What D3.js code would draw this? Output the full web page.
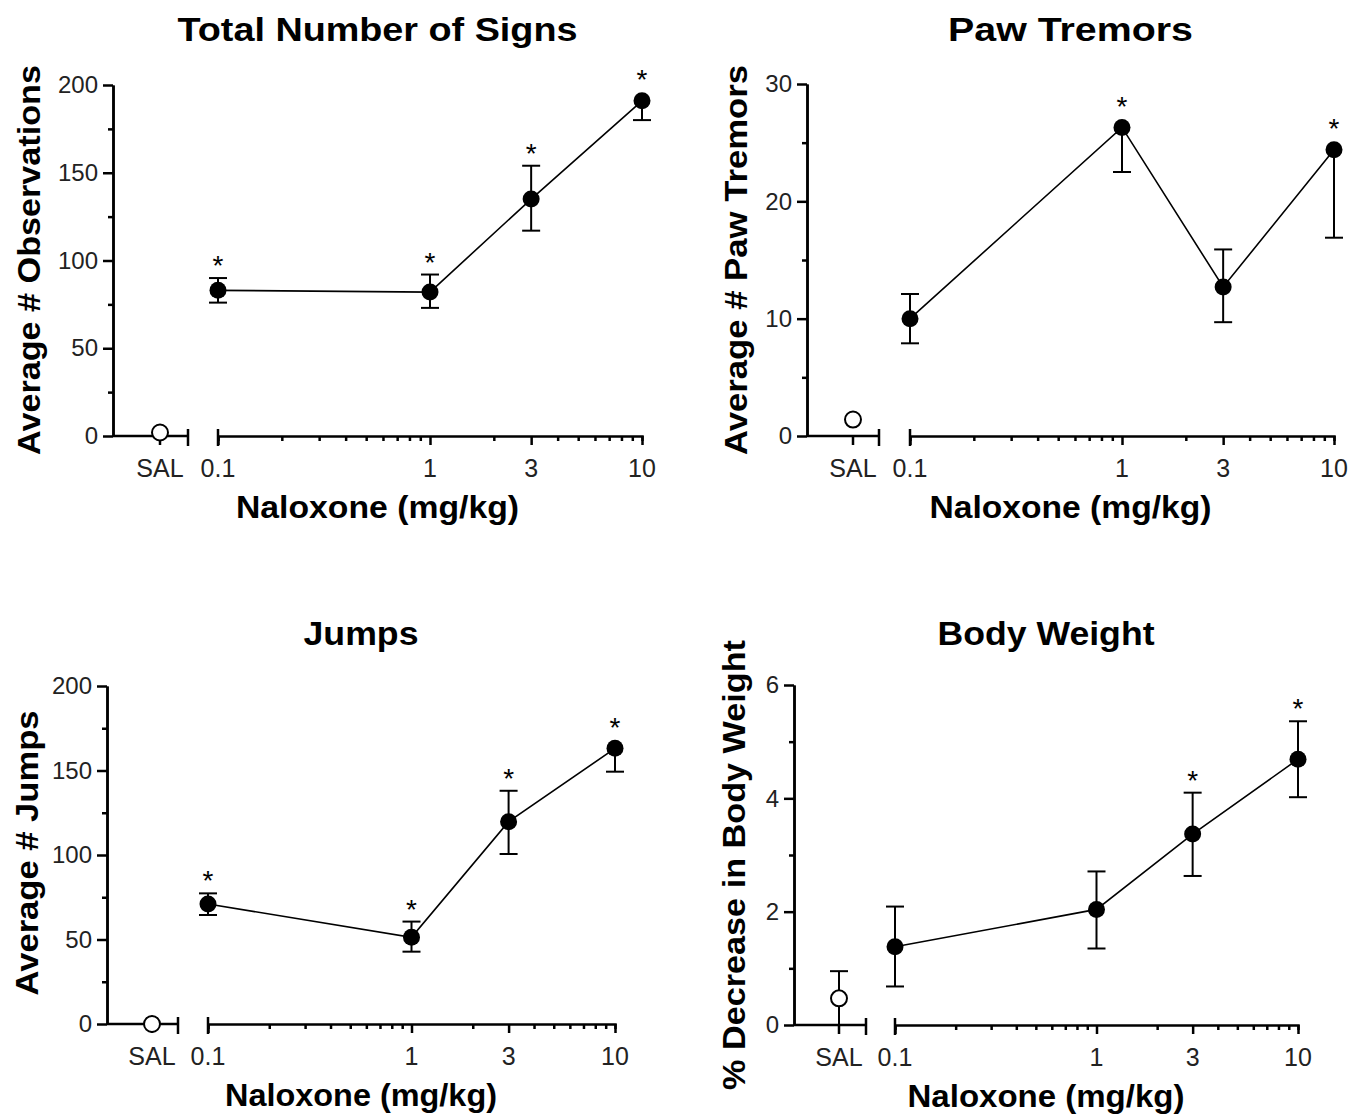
<!DOCTYPE html>
<html>
<head>
<meta charset="utf-8">
<script src="https://cdn.jsdelivr.net/npm/d3@7"></script>
<style>
  body { margin: 0; background: #fff; }
  text { font-family: Arial, "Liberation Sans", Helvetica, sans-serif; }
</style>
</head>
<body>
<svg id="chart" width="1366" height="1115"></svg>
<script>
// naloxone doses (mg/kg) and the tick labels on the dose axis
const doses = [0.1, 1, 3, 10];
const doseLabels = ["0.1", "1", "3", "10"];
const salLabel = "SAL";

// Total Number of Signs (mean, lower / upper end of the error bar)
const signsMean = [83, 82, 135, 191];
const signsLow = [76, 73, 117, 180];
const signsHigh = [90, 92, 154, 191];
const signsSal = [2, 2, 2];
const signsStar = [true, true, true, true];

// Paw Tremors
const pawMean = [10, 26.3, 12.7, 24.4];
const pawLow = [7.9, 22.5, 9.7, 16.9];
const pawHigh = [12.1, 26.3, 15.9, 24.4];
const pawSal = [1.4, 1.4, 1.4];
const pawStar = [false, true, false, true];

// Jumps
const jumpsMean = [71, 51.3, 119.7, 163.1];
const jumpsLow = [64.5, 42.8, 100.6, 149.3];
const jumpsHigh = [77.3, 60.6, 138, 163.1];
const jumpsSal = [0, 0, 0];
const jumpsStar = [true, true, true, true];

// Body Weight (% decrease)
const weightMean = [1.38, 2.04, 3.37, 4.69];
const weightLow = [0.68, 1.35, 2.63, 4.02];
const weightHigh = [2.09, 2.71, 4.1, 5.36];
const weightSal = [0.47, 0, 0.95];
const weightStar = [false, false, true, true];

const countTicks = [0, 50, 100, 150, 200];
const countMinor = [25, 75, 125, 175];
const pawTicks = [0, 10, 20, 30];
const pawMinor = [5, 15, 25];
const weightTicks = [0, 2, 4, 6];
const weightMinor = [1, 3, 5];

const panels = [
    { title: "Total Number of Signs", ylab: "Average # Observations",
      mean: signsMean, low: signsLow, high: signsHigh, sal: signsSal, star: signsStar,
      ticks: countTicks, minor: countMinor,
      ax: 113, x01: 218, x10: 642, salX: 160, brk: 188, y0: 436, yTop: 85,
      titleY: 41, titleW: 400, ylabX: 40, ylabY: 260, ylabW: 390, xlabW: 283 },
    { title: "Paw Tremors", ylab: "Average # Paw Tremors",
      mean: pawMean, low: pawLow, high: pawHigh, sal: pawSal, star: pawStar,
      ticks: pawTicks, minor: pawMinor,
      ax: 807, x01: 910, x10: 1334, salX: 853, brk: 879, y0: 436, yTop: 84,
      titleY: 41, titleW: 245, ylabX: 747, ylabY: 260, ylabW: 390, xlabW: 282 },
    { title: "Jumps", ylab: "Average # Jumps",
      mean: jumpsMean, low: jumpsLow, high: jumpsHigh, sal: jumpsSal, star: jumpsStar,
      ticks: countTicks, minor: countMinor,
      ax: 107, x01: 208, x10: 615, salX: 152, brk: 178, y0: 1024, yTop: 686,
      titleY: 645, titleW: 115, ylabX: 38, ylabY: 853, ylabW: 285, xlabW: 272 },
    { title: "Body Weight", ylab: "% Decrease in Body Weight",
      mean: weightMean, low: weightLow, high: weightHigh, sal: weightSal, star: weightStar,
      ticks: weightTicks, minor: weightMinor,
      ax: 794, x01: 895, x10: 1298, salX: 839, brk: 866, y0: 1025, yTop: 685,
      titleY: 645, titleW: 217, ylabX: 745, ylabY: 865, ylabW: 450, xlabW: 277 }
];

const svg = d3.select("#chart");
const axisW = 2.5;
const capW = 9;

function drawPanel(p) {
    const g = svg.append("g");
    const x = d3.scaleLog().domain([0.1, 10]).range([p.x01, p.x10]);
    const y = d3.scaleLinear().domain([0, d3.max(p.ticks)]).range([p.y0, p.yTop]);
    const cx = (p.ax + p.x10) / 2;

    // y axis, major and minor
    g.append("g")
        .attr("transform", `translate(${p.ax},0)`)
        .call(d3.axisLeft(y).tickValues(p.ticks).tickFormat(d3.format("d"))
            .tickSize(10).tickSizeOuter(0).tickPadding(5))
        .call(a => a.selectAll("text").attr("font-size", 24).attr("fill", "#222").attr("font-family", null));
    g.append("g")
        .attr("transform", `translate(${p.ax},0)`)
        .call(d3.axisLeft(y).tickValues(p.minor).tickSize(5).tickSizeOuter(0).tickFormat(""));

    // x axis, log part
    const allTicks = x.ticks();
    g.append("g")
        .attr("transform", `translate(0,${p.y0})`)
        .call(d3.axisBottom(x).tickValues(allTicks).tickSizeOuter(0)
            .tickSize(5).tickFormat(""))
        .call(a => a.selectAll(".tick line").attr("y2", d => doses.includes(d) ? 9 : 5));
    const xl = g.append("g").attr("transform", `translate(0,${p.y0})`);
    xl.selectAll("text.dose")
        .data(doses)
        .join("text")
        .attr("class", "dose")
        .attr("x", d => x(d))
        .attr("y", 41)
        .attr("text-anchor", "middle")
        .attr("font-size", 25)
        .attr("fill", "#222")
        .text((d, i) => doseLabels[i]);

    // saline part of x axis
    xl.append("line").attr("x1", p.ax).attr("x2", p.brk).attr("y1", 0).attr("y2", 0);
    xl.append("line").attr("x1", p.salX).attr("x2", p.salX).attr("y1", 0).attr("y2", 9);
    xl.append("line").attr("x1", p.brk).attr("x2", p.brk).attr("y1", -7).attr("y2", 10);
    xl.append("line").attr("x1", x(0.1)).attr("x2", x(0.1)).attr("y1", -7).attr("y2", 10);
    xl.selectAll("line").attr("stroke", "#000").attr("stroke-width", axisW);
    xl.append("text")
        .attr("x", p.salX).attr("y", 41)
        .attr("text-anchor", "middle")
        .attr("font-size", 25)
        .attr("fill", "#222")
        .text(salLabel);

    g.selectAll(".domain, .tick line").attr("stroke", "#000").attr("stroke-width", axisW);

    // titles
    g.append("text")
        .attr("x", cx).attr("y", p.titleY)
        .attr("text-anchor", "middle")
        .attr("font-size", 33).attr("font-weight", "bold")
        .attr("textLength", p.titleW).attr("lengthAdjust", "spacingAndGlyphs")
        .text(p.title);
    g.append("text")
        .attr("x", cx).attr("y", p.y0 + 82)
        .attr("text-anchor", "middle")
        .attr("font-size", 31).attr("font-weight", "bold")
        .attr("textLength", p.xlabW).attr("lengthAdjust", "spacingAndGlyphs")
        .text("Naloxone (mg/kg)");
    g.append("text")
        .attr("transform", `translate(${p.ylabX},${p.ylabY}) rotate(-90)`)
        .attr("text-anchor", "middle")
        .attr("font-size", 31).attr("font-weight", "bold")
        .attr("textLength", p.ylabW).attr("lengthAdjust", "spacingAndGlyphs")
        .text(p.ylab);

    const pts = doses.map((d, i) => ({ d: d, m: p.mean[i], lo: p.low[i], hi: p.high[i], star: p.star[i] }));

    // error bars
    const eb = g.append("g").attr("stroke", "#000").attr("stroke-width", 2);
    function bar(px, m, lo, hi) {
        if (hi > m) {
            eb.append("line").attr("x1", px).attr("x2", px).attr("y1", y(m)).attr("y2", y(hi));
            eb.append("line").attr("x1", px - capW).attr("x2", px + capW).attr("y1", y(hi)).attr("y2", y(hi));
        }
        if (lo < m) {
            eb.append("line").attr("x1", px).attr("x2", px).attr("y1", y(m)).attr("y2", y(lo));
            eb.append("line").attr("x1", px - capW).attr("x2", px + capW).attr("y1", y(lo)).attr("y2", y(lo));
        }
    }
    pts.forEach(q => bar(x(q.d), q.m, q.lo, q.hi));
    bar(p.salX, p.sal[0], p.sal[1], p.sal[2]);

    // connecting line
    g.append("path")
        .datum(pts)
        .attr("fill", "none")
        .attr("stroke", "#000")
        .attr("stroke-width", 1.6)
        .attr("d", d3.line().x(q => x(q.d)).y(q => y(q.m)));

    g.selectAll("circle.dose")
        .data(pts)
        .join("circle")
        .attr("class", "dose")
        .attr("cx", q => x(q.d))
        .attr("cy", q => y(q.m))
        .attr("r", 8.5)
        .attr("fill", "#000");

    g.append("circle")
        .attr("cx", p.salX)
        .attr("cy", y(p.sal[0]))
        .attr("r", 8)
        .attr("fill", "#fff")
        .attr("stroke", "#000")
        .attr("stroke-width", 2);

    // significance marks
    g.selectAll("text.star")
        .data(pts.filter(q => q.star))
        .join("text")
        .attr("class", "star")
        .attr("x", q => x(q.d))
        .attr("y", q => Math.min(y(q.hi), y(q.m) - 8.5) - 3)
        .attr("text-anchor", "middle")
        .attr("font-size", 28)
        .text("*");
}

panels.forEach(drawPanel);
</script>
</body>
</html>
